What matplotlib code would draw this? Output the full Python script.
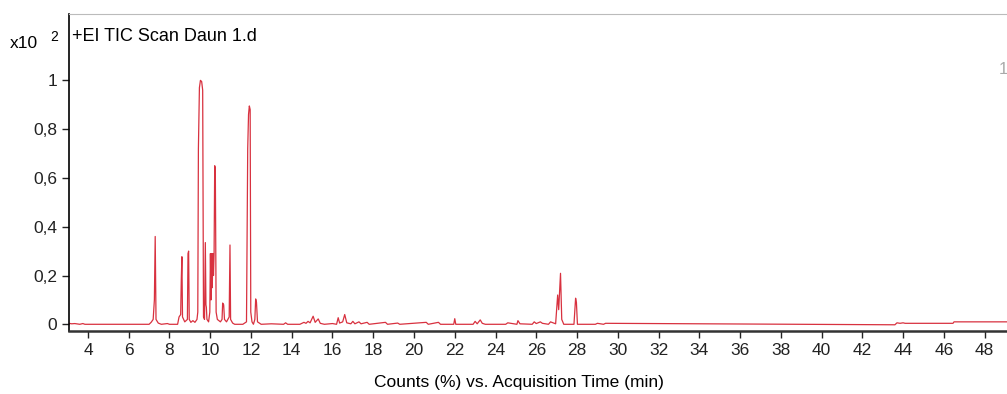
import matplotlib
matplotlib.use("Agg")
import matplotlib.pyplot as plt

plt.rcParams['font.family'] = ['Liberation Sans', 'DejaVu Sans']

# chromatogram trace, in pieces (time in min, counts x10^2)
rt_a = [3.07, 3.2, 3.35, 3.6, 3.75, 3.85, 4.0, 7.0, 7.1, 7.2, 7.26, 7.30, 7.34, 7.45, 7.6, 7.9, 8.0]
c_a = [0.004, 0.002, 0.003, 0.0, 0.003, 0.0, 0.0, 0.0, 0.008, 0.02, 0.1, 0.36, 0.02, 0.005, 0.0, 0.003, 0.0]

rt_b = [8.4, 8.47, 8.55, 8.58, 8.61, 8.64, 8.75, 8.88, 8.91, 8.94, 8.97, 9.05, 9.15, 9.25, 9.35]
c_b = [0.0, 0.03, 0.04, 0.18, 0.277, 0.03, 0.01, 0.02, 0.29, 0.30, 0.02, 0.008, 0.015, 0.008, 0.02]

rt_c = [9.39, 9.42, 9.47, 9.52, 9.58, 9.63, 9.67, 9.72, 9.76, 9.79, 9.81, 9.84, 9.92,
        9.98, 10.01, 10.04, 10.07, 10.10, 10.13, 10.16, 10.19, 10.22, 10.25, 10.29, 10.35]
c_c = [0.05, 0.72, 0.97, 1.0, 0.995, 0.96, 0.03, 0.02, 0.335, 0.08, 0.07, 0.02, 0.01,
       0.05, 0.29, 0.1, 0.29, 0.15, 0.29, 0.2, 0.29, 0.65, 0.64, 0.05, 0.02]

rt_d = [10.5, 10.58, 10.61, 10.66, 10.7, 10.8, 10.93, 10.97, 11.0, 11.1, 11.2, 11.6, 11.78,
        11.84, 11.88, 11.92, 11.96, 11.99, 12.05, 12.12, 12.19, 12.23, 12.27, 12.32, 12.5]
c_d = [0.01, 0.02, 0.087, 0.08, 0.02, 0.01, 0.03, 0.325, 0.02, 0.005, 0.0, 0.0, 0.01,
       0.72, 0.86, 0.895, 0.88, 0.05, 0.01, 0.0, 0.02, 0.104, 0.09, 0.01, 0.0]

rt_e = [13.0, 13.6, 13.7, 13.8, 14.4, 14.6, 14.7, 14.8, 14.9, 15.05, 15.15, 15.3, 15.4, 15.6,
        16.0, 16.2, 16.28, 16.35, 16.5, 16.6, 16.7, 16.9, 17.0, 17.1, 17.3, 17.4, 17.7, 17.8,
        18.6, 18.7, 19.2, 19.3, 20.6, 20.7, 21.2, 21.3, 21.95, 22.0, 22.05, 22.9, 23.0, 23.1,
        23.25, 23.35, 23.5, 24.5, 24.6, 25.05, 25.1, 25.2, 25.8, 25.9, 26.0, 26.2, 26.3,
        26.6, 26.7]
c_e = [0.002, 0.0, 0.006, 0.0, 0.0, 0.008, 0.004, 0.012, 0.006, 0.033, 0.008, 0.022, 0.004, 0.0,
       0.003, 0.0, 0.027, 0.005, 0.01, 0.04, 0.006, 0.002, 0.012, 0.002, 0.01, 0.002, 0.008, 0.0,
       0.008, 0.0, 0.005, 0.0, 0.008, 0.0, 0.008, 0.0, 0.0, 0.023, 0.0, 0.0, 0.012, 0.002,
       0.018, 0.004, 0.0, 0.0, 0.006, 0.0, 0.015, 0.002, 0.0, 0.01, 0.003, 0.01, 0.004,
       0.0, 0.01]

rt_f = [26.95, 27.05, 27.1, 27.19, 27.25, 27.35, 27.85, 27.93, 27.97, 28.02, 28.1, 28.9, 29.0,
        29.3, 29.4, 43.6, 43.7, 43.85, 44.0, 44.1, 46.45, 46.5, 46.55, 49.1]
c_f = [0.002, 0.12, 0.06, 0.209, 0.02, 0.0, 0.0, 0.107, 0.09, 0.0, 0.0, 0.0, 0.004,
       0.0, 0.004, -0.002, 0.006, 0.004, 0.006, 0.004, 0.004, 0.01, 0.01, 0.01]

rt = rt_a + rt_b + rt_c + rt_d + rt_e + rt_f
counts = c_a + c_b + c_c + c_d + c_e + c_f

xticks = list(range(4, 50, 2))
yticks = [0, 0.2, 0.4, 0.6, 0.8, 1.0]
ytick_labels = ['0', '0,2', '0,4', '0,6', '0,8', '1']

fig = plt.figure(figsize=(10.07, 3.94), dpi=100)
ax = fig.add_axes([69/1007, 63/394, 1 - 69/1007, 317/394])

ax.plot(rt, counts, color='#d8313f', lw=0.9)

ax.set_xlim(3.07, 49.1)
ax.set_ylim(-0.0275, 1.272)
ax.set_xticks(xticks)
ax.set_yticks(yticks)
ax.set_yticklabels(ytick_labels)
ax.tick_params(labelsize=12.5, length=5, width=1, direction='out', colors='#222222')

ax.spines['right'].set_visible(False)
ax.spines['top'].set_color('#bbbbbb')
ax.spines['top'].set_linewidth(0.8)
ax.spines['left'].set_linewidth(1.2)
ax.spines['bottom'].set_linewidth(1.8)
ax.spines['bottom'].set_color('#333333')

ax.text(0.003, 0.93, '+EI TIC Scan Daun 1.d', transform=ax.transAxes, fontsize=13,
        va='center', ha='left')
fig.text(10/1007, 1 - 44/394, 'x10', fontsize=12.5, va='center', ha='left')
fig.text(50/1007, 1 - 37/394, '2', fontsize=10, va='center', ha='left')
fig.text(999/1007, 1 - 70/394, '1', fontsize=12, va='center', ha='left', color='#aaaaaa')
fig.text(519/1007, 1 - 383/394, 'Counts (%) vs. Acquisition Time (min)', fontsize=12.5,
         va='center', ha='center')

fig.savefig('out.png', dpi=100)
